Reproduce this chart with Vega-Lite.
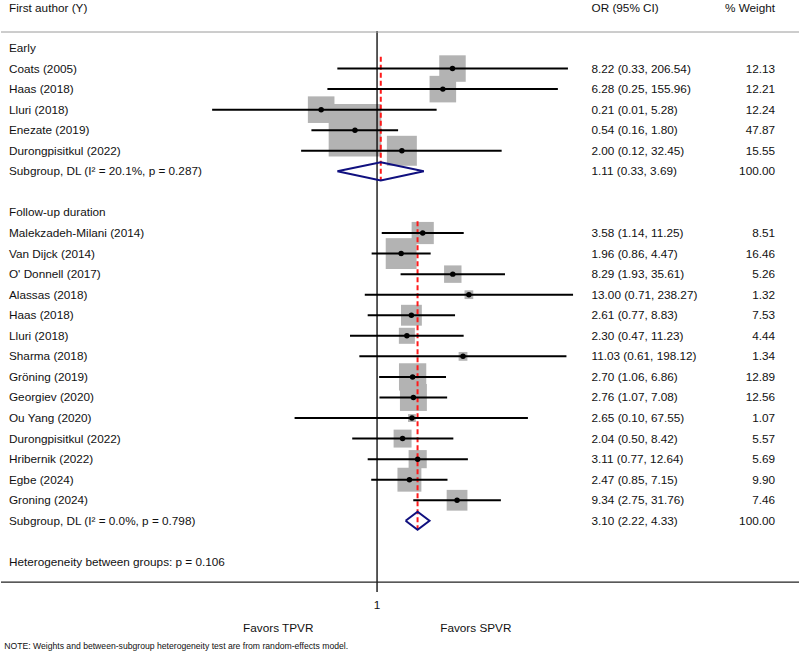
{
  "$schema": "https://vega.github.io/schema/vega-lite/v6.json",
  "width": 800,
  "height": 653,
  "autosize": {"type": "fit", "contains": "padding"},
  "padding": 0,
  "background": "white",
  "config": {
    "view": {"stroke": null},
    "text": {"font": "Liberation Sans", "fontSize": 11.75, "color": "#111111"}
  },
  "data": {
    "name": "rows",
    "values": [
      {"row": 0, "kind": "group", "group": "early", "label": "Early"},
      {"row": 1, "kind": "study", "group": "early", "label": "Coats (2005)", "or": 8.22, "lo": 0.33, "hi": 206.54, "w": 12.13},
      {"row": 2, "kind": "study", "group": "early", "label": "Haas (2018)", "or": 6.28, "lo": 0.25, "hi": 155.96, "w": 12.21},
      {"row": 3, "kind": "study", "group": "early", "label": "Lluri (2018)", "or": 0.21, "lo": 0.01, "hi": 5.28, "w": 12.24},
      {"row": 4, "kind": "study", "group": "early", "label": "Enezate (2019)", "or": 0.54, "lo": 0.16, "hi": 1.80, "w": 47.87},
      {"row": 5, "kind": "study", "group": "early", "label": "Durongpisitkul (2022)", "or": 2.00, "lo": 0.12, "hi": 32.45, "w": 15.55},
      {"row": 6, "kind": "sub", "group": "early", "label": "Subgroup, DL (I² = 20.1%, p = 0.287)", "or": 1.11, "lo": 0.33, "hi": 3.69, "w": 100.00},
      {"row": 8, "kind": "group", "group": "fu", "label": "Follow-up duration"},
      {"row": 9, "kind": "study", "group": "fu", "label": "Malekzadeh-Milani (2014)", "or": 3.58, "lo": 1.14, "hi": 11.25, "w": 8.51},
      {"row": 10, "kind": "study", "group": "fu", "label": "Van Dijck (2014)", "or": 1.96, "lo": 0.86, "hi": 4.47, "w": 16.46},
      {"row": 11, "kind": "study", "group": "fu", "label": "O' Donnell (2017)", "or": 8.29, "lo": 1.93, "hi": 35.61, "w": 5.26},
      {"row": 12, "kind": "study", "group": "fu", "label": "Alassas (2018)", "or": 13.00, "lo": 0.71, "hi": 238.27, "w": 1.32},
      {"row": 13, "kind": "study", "group": "fu", "label": "Haas (2018)", "or": 2.61, "lo": 0.77, "hi": 8.83, "w": 7.53},
      {"row": 14, "kind": "study", "group": "fu", "label": "Lluri (2018)", "or": 2.30, "lo": 0.47, "hi": 11.23, "w": 4.44},
      {"row": 15, "kind": "study", "group": "fu", "label": "Sharma (2018)", "or": 11.03, "lo": 0.61, "hi": 198.12, "w": 1.34},
      {"row": 16, "kind": "study", "group": "fu", "label": "Gröning (2019)", "or": 2.70, "lo": 1.06, "hi": 6.86, "w": 12.89},
      {"row": 17, "kind": "study", "group": "fu", "label": "Georgiev (2020)", "or": 2.76, "lo": 1.07, "hi": 7.08, "w": 12.56},
      {"row": 18, "kind": "study", "group": "fu", "label": "Ou Yang (2020)", "or": 2.65, "lo": 0.10, "hi": 67.55, "w": 1.07},
      {"row": 19, "kind": "study", "group": "fu", "label": "Durongpisitkul (2022)", "or": 2.04, "lo": 0.50, "hi": 8.42, "w": 5.57},
      {"row": 20, "kind": "study", "group": "fu", "label": "Hribernik (2022)", "or": 3.11, "lo": 0.77, "hi": 12.64, "w": 5.69},
      {"row": 21, "kind": "study", "group": "fu", "label": "Egbe (2024)", "or": 2.47, "lo": 0.85, "hi": 7.15, "w": 9.90},
      {"row": 22, "kind": "study", "group": "fu", "label": "Groning (2024)", "or": 9.34, "lo": 2.75, "hi": 31.76, "w": 7.46},
      {"row": 23, "kind": "sub", "group": "fu", "label": "Subgroup, DL (I² = 0.0%, p = 0.798)", "or": 3.10, "lo": 2.22, "hi": 4.33, "w": 100.00},
      {"row": 25, "kind": "het", "label": "Heterogeneity between groups: p = 0.106"}
    ]
  },
  "layer": [
    {
      "layer": [
        {
          "transform": [{"filter": "datum.kind === 'study'"}],
          "mark": {"type": "point", "shape": "square", "filled": true, "color": "#b3b3b3", "opacity": 1, "strokeWidth": 0},
          "encoding": {
            "x": {"field": "or", "type": "quantitative", "scale": {"type": "log", "domain": [2.751e-5, 131000], "nice": false}, "axis": null},
            "y": {"field": "row", "type": "quantitative", "scale": {"domain": [-2.335, 29.43], "reverse": true, "nice": false, "zero": false}, "axis": null},
            "size": {"field": "w", "type": "quantitative", "scale": {"type": "linear", "domain": [0, 100], "range": [0, 5780], "zero": true}, "legend": null}
          }
        },
        {
          "data": {"values": [{}]},
          "mark": {"type": "rule", "color": "#000000", "strokeWidth": 1.3},
          "encoding": {
            "x": {"datum": 1, "type": "quantitative", "scale": {"type": "log"}},
            "y": {"datum": -0.83, "type": "quantitative"},
            "y2": {"datum": 26.46}
          }
        },
        {
          "data": {"values": [{}]},
          "mark": {"type": "rule", "color": "#9a9a9a", "strokeWidth": 1},
          "encoding": {"y": {"datum": -0.778, "type": "quantitative"}}
        },
        {
          "data": {"values": [{}]},
          "mark": {"type": "rule", "color": "#222222", "strokeWidth": 1.3},
          "encoding": {"y": {"datum": 25.98, "type": "quantitative"}}
        },
        {
          "transform": [
            {"filter": "datum.group != null"},
            {"joinaggregate": [{"op": "min", "field": "row", "as": "gmin"}], "groupby": ["group"]},
            {"filter": "datum.kind === 'sub'"},
            {"calculate": "datum.gmin + 0.43", "as": "y0"},
            {"calculate": "datum.row + 0.43", "as": "y1"}
          ],
          "mark": {"type": "rule", "color": "#ff1a1a", "strokeWidth": 2, "strokeDash": [5, 3]},
          "encoding": {
            "x": {"field": "or", "type": "quantitative", "scale": {"type": "log"}},
            "y": {"field": "y0", "type": "quantitative"},
            "y2": {"field": "y1"}
          }
        },
        {
          "transform": [{"filter": "datum.kind === 'study'"}],
          "mark": {"type": "rule", "color": "#000000", "strokeWidth": 2},
          "encoding": {
            "x": {"field": "lo", "type": "quantitative", "scale": {"type": "log"}},
            "x2": {"field": "hi"},
            "y": {"field": "row", "type": "quantitative"}
          }
        },
        {
          "transform": [{"filter": "datum.kind === 'study'"}],
          "mark": {"type": "point", "shape": "circle", "filled": true, "color": "#000000", "opacity": 1, "size": 30, "strokeWidth": 0},
          "encoding": {
            "x": {"field": "or", "type": "quantitative", "scale": {"type": "log"}},
            "y": {"field": "row", "type": "quantitative"}
          }
        },
        {
          "transform": [
            {"filter": "datum.kind === 'sub'"},
            {"calculate": "[datum.lo, datum.or, datum.hi, datum.or, datum.lo]", "as": "vx"},
            {"calculate": "[0, -1, 0, 1, 0]", "as": "dy"},
            {"calculate": "[0, 1, 2, 3, 4]", "as": "k"},
            {"flatten": ["vx", "dy", "k"]},
            {"calculate": "datum.row + 0.44 * datum.dy", "as": "vy"}
          ],
          "mark": {"type": "line", "color": "#10107f", "strokeWidth": 2, "strokeJoin": "miter"},
          "encoding": {
            "x": {"field": "vx", "type": "quantitative", "scale": {"type": "log"}},
            "y": {"field": "vy", "type": "quantitative"},
            "order": {"field": "k", "type": "quantitative"},
            "detail": {"field": "row", "type": "nominal"}
          }
        },
        {
          "data": {"values": [{}]},
          "mark": {"type": "text", "align": "center", "baseline": "middle"},
          "encoding": {
            "x": {"datum": 1, "type": "quantitative", "scale": {"type": "log"}},
            "y": {"datum": 27.1, "type": "quantitative"},
            "text": {"value": "1"}
          }
        },
        {
          "data": {"values": [{}]},
          "mark": {"type": "text", "align": "center", "baseline": "middle"},
          "encoding": {
            "x": {"datum": 0.0634, "type": "quantitative", "scale": {"type": "log"}},
            "y": {"datum": 28.21, "type": "quantitative"},
            "text": {"value": "Favors TPVR"}
          }
        },
        {
          "data": {"values": [{}]},
          "mark": {"type": "text", "align": "center", "baseline": "middle"},
          "encoding": {
            "x": {"datum": 15.77, "type": "quantitative", "scale": {"type": "log"}},
            "y": {"datum": 28.21, "type": "quantitative"},
            "text": {"value": "Favors SPVR"}
          }
        }
      ]
    },
    {
      "layer": [
        {
          "mark": {"type": "text", "align": "left", "baseline": "middle"},
          "encoding": {
            "x": {"datum": 1, "type": "quantitative", "scale": {"domain": [0, 100], "nice": false, "zero": false}, "axis": null},
            "y": {"field": "row", "type": "quantitative"},
            "text": {"field": "label"}
          }
        },
        {
          "transform": [
            {"filter": "datum.kind === 'study' || datum.kind === 'sub'"},
            {"calculate": "format(datum.or, '.2f') + ' (' + format(datum.lo, '.2f') + ', ' + format(datum.hi, '.2f') + ')'", "as": "ci"}
          ],
          "mark": {"type": "text", "align": "left", "baseline": "middle"},
          "encoding": {
            "x": {"datum": 74, "type": "quantitative", "scale": {"domain": [0, 100], "nice": false, "zero": false}, "axis": null},
            "y": {"field": "row", "type": "quantitative"},
            "text": {"field": "ci"}
          }
        },
        {
          "transform": [
            {"filter": "datum.kind === 'study' || datum.kind === 'sub'"},
            {"calculate": "format(datum.w, '.2f')", "as": "wt"}
          ],
          "mark": {"type": "text", "align": "right", "baseline": "middle"},
          "encoding": {
            "x": {"datum": 97, "type": "quantitative", "scale": {"domain": [0, 100], "nice": false, "zero": false}, "axis": null},
            "y": {"field": "row", "type": "quantitative"},
            "text": {"field": "wt"}
          }
        },
        {
          "data": {"values": [{}]},
          "mark": {"type": "text", "align": "left", "baseline": "middle"},
          "encoding": {
            "x": {"datum": 1, "type": "quantitative", "scale": {"domain": [0, 100], "nice": false, "zero": false}, "axis": null},
            "y": {"datum": -1.946, "type": "quantitative"},
            "text": {"value": "First author (Y)"}
          }
        },
        {
          "data": {"values": [{}]},
          "mark": {"type": "text", "align": "left", "baseline": "middle"},
          "encoding": {
            "x": {"datum": 74, "type": "quantitative", "scale": {"domain": [0, 100], "nice": false, "zero": false}, "axis": null},
            "y": {"datum": -1.946, "type": "quantitative"},
            "text": {"value": "OR (95% CI)"}
          }
        },
        {
          "data": {"values": [{}]},
          "mark": {"type": "text", "align": "right", "baseline": "middle"},
          "encoding": {
            "x": {"datum": 97, "type": "quantitative", "scale": {"domain": [0, 100], "nice": false, "zero": false}, "axis": null},
            "y": {"datum": -1.946, "type": "quantitative"},
            "text": {"value": "% Weight"}
          }
        },
        {
          "data": {"values": [{}]},
          "mark": {"type": "text", "align": "left", "baseline": "middle", "fontSize": 8.65},
          "encoding": {
            "x": {"datum": 0.4, "type": "quantitative", "scale": {"domain": [0, 100], "nice": false, "zero": false}, "axis": null},
            "y": {"datum": 29.09, "type": "quantitative"},
            "text": {"value": "NOTE: Weights and between-subgroup heterogeneity test are from random-effects model."}
          }
        }
      ]
    }
  ],
  "resolve": {"scale": {"x": "independent"}}
}
